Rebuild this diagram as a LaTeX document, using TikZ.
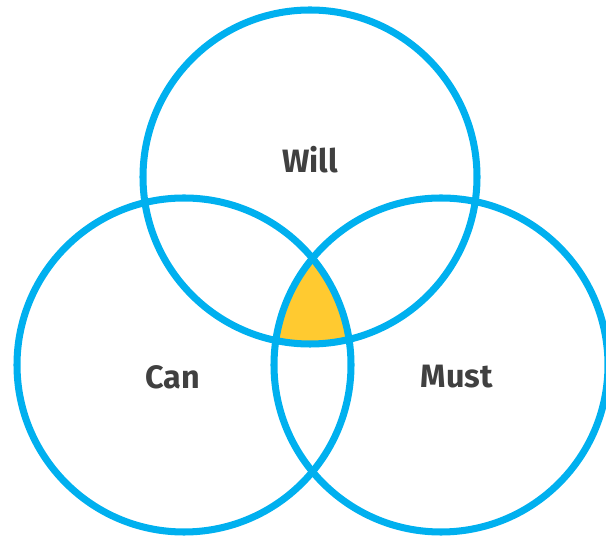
\documentclass[tikz,border=0pt]{standalone}
\usepackage{fontspec}
\setmainfont{Fira Sans}
\usepackage{tikz}
\definecolor{ringblue}{HTML}{00B0EF}
\definecolor{coreyellow}{HTML}{FFCA30}
\definecolor{labelgray}{HTML}{404040}
\tikzset{
  ring/.style={draw=ringblue, line width=5pt},
  circletext/.style={text=labelgray, font=\fontsize{23}{28}\selectfont\bfseries}
}
\begin{document}
\begin{tikzpicture}[x=0.025cm, y=-0.025cm]
  \useasboundingbox (0,0) rectangle (606,536);
  \clip (0,0) rectangle (606,536);
  \coordinate (will) at (310,177);
  \coordinate (can) at (184,365);
  \coordinate (must) at (441,365);
  \begin{scope}
    \clip (will) circle [radius=167];
    \clip (can) circle [radius=167];
    \fill[coreyellow] (must) circle [radius=167];
  \end{scope}
  \draw[ring] (will) circle [radius=167];
  \draw[ring] (can) circle [radius=167];
  \draw[ring] (must) circle [radius=167];
  \node[circletext] (willtext) at (310,160) {Will};
  \node[circletext] (cantext) at (173,377) {Can};
  \node[circletext] (musttext) at (457,377) {Must};
\end{tikzpicture}
\end{document}
